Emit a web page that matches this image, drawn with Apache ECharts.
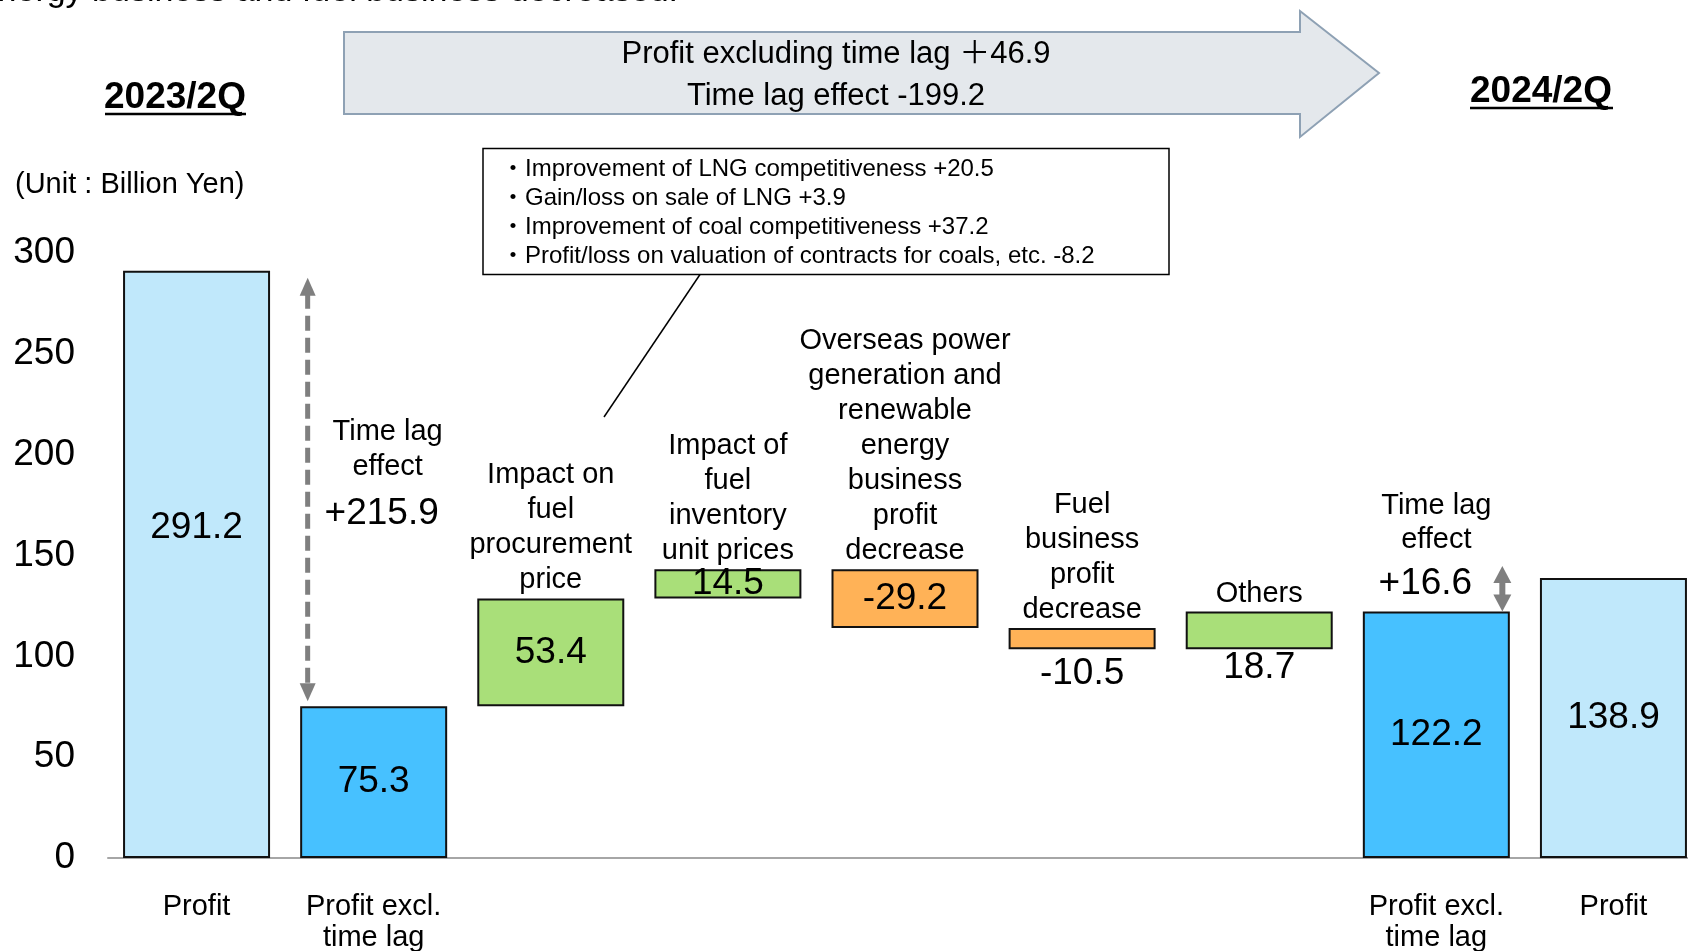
<!DOCTYPE html>
<html>
<head>
<meta charset="utf-8">
<title>Profit 2023/2Q - 2024/2Q</title>
<script src="https://cdn.jsdelivr.net/npm/echarts@6/dist/echarts.min.js"></script>
<style>
    html, body { margin: 0; padding: 0; background: #fff; }
    #main { width: 1688px; height: 951px; }
</style>
</head>
<body>
<div id="main"></div>
<script>
// ---- data ----
var categories = [
    'Profit',
    'Profit excl.\ntime lag',
    'Impact on\nfuel\nprocurement\nprice',
    'Impact of\nfuel\ninventory\nunit prices',
    'Overseas power\ngeneration and\nrenewable\nenergy\nbusiness\nprofit\ndecrease',
    'Fuel\nbusiness\nprofit\ndecrease',
    'Others',
    'Profit excl.\ntime lag',
    'Profit'
];
var axisNames = ['Profit', 'Profit excl.\ntime lag', '', '', '', '', '', 'Profit excl.\ntime lag', 'Profit'];
var changes = [291.2, 75.3, 53.4, 14.5, -29.2, -10.5, 18.7, 122.2, 138.9];
var kinds = ['profit', 'excl', 'up', 'up', 'down', 'down', 'up', 'excl', 'profit'];
var timeLag = [215.9, 16.6];
var periods = ['2023/2Q', '2024/2Q'];
var bannerLines = ['Profit excluding time lag \uff0b46.9', 'Time lag effect -199.2'];
var fuelNotes = [
    'Improvement of LNG competitiveness +20.5',
    'Gain/loss on sale of LNG +3.9',
    'Improvement of coal competitiveness +37.2',
    'Profit/loss on valuation of contracts for coals, etc. -8.2'
];
var unitText = '(Unit : Billion Yen)';
var topNote = 'energy business and fuel business decreased.';

// ---- styles ----
var FONT = "'Liberation Sans', Arial, 'Noto Sans CJK JP', sans-serif";
var colorOf = { profit: '#C0E8FB', excl: '#47C1FF', up: '#A9DF79', down: '#FFB257' };
var labelTweak = {
    0: { offset: [0, -37] },
    5: { position: 'bottom', distance: 6 },
    6: { position: 'bottom', distance: 0 }
};

// waterfall: transparent base + visible step
var base = [], height = [], tops = [];
var run = 0;
for (var i = 0; i < changes.length; i++) {
    var v = changes[i];
    if (kinds[i] == 'profit' || kinds[i] == 'excl') {
        base.push(0); height.push(v); run = v;
    } else if (v >= 0) {
        base.push(run); height.push(v); run = run + v;
    } else {
        run = run + v; base.push(run); height.push(-v);
    }
    tops.push(base[i] + height[i]);
}

var barData = height.map(function (h, i) {
    var item = { value: h, itemStyle: { color: colorOf[kinds[i]] } };
    if (labelTweak[i]) item.label = labelTweak[i];
    return item;
});

// names written above the step bars
var nameData = [];
for (var k = 0; k < categories.length; k++) {
    if (kinds[k] == 'up' || kinds[k] == 'down') {
        nameData.push({ name: categories[k], value: [k, tops[k]] });
    }
}

var chart = echarts.init(document.getElementById('main'));

var option = {
    animation: false,
    textStyle: { fontFamily: FONT },
    grid: { left: 108, right: -14, top: 253, bottom: 93, outerBoundsMode: 'none', containLabel: false },
    xAxis: {
        type: 'category',
        data: axisNames,
        axisLine: { lineStyle: { color: '#A6A6A6', width: 2 } },
        axisTick: { show: false },
        axisLabel: {
            interval: 0, color: '#000', fontSize: 29, lineHeight: 31,
            margin: 33, fontFamily: FONT
        }
    },
    yAxis: {
        type: 'value',
        min: 0, max: 300, interval: 50,
        axisLine: { show: false },
        axisTick: { show: false },
        splitLine: { show: false },
        axisLabel: { color: '#000', fontSize: 37, margin: 33, fontFamily: FONT, padding: [4, 0, 0, 0] }
    },
    series: [
        {
            name: 'base', type: 'bar', stack: 'w', data: base, barWidth: 147,
            itemStyle: { color: 'rgba(0,0,0,0)' }, silent: true
        },
        {
            name: 'change', type: 'bar', stack: 'w', data: barData, barWidth: 147,
            itemStyle: { borderColor: '#111', borderWidth: 2 },
            label: {
                show: true, position: 'inside', color: '#000', fontSize: 37, fontFamily: FONT,
                formatter: function (p) { return changes[p.dataIndex].toFixed(1); }
            }
        },
        {
            name: 'items', type: 'scatter', data: nameData, symbolSize: 1,
            itemStyle: { color: 'rgba(0,0,0,0)', opacity: 1 },
            label: {
                show: true, position: 'top', distance: 0, formatter: '{b}',
                color: '#000', fontSize: 29, lineHeight: 35, align: 'center', fontFamily: FONT
            }
        }
    ]
};

chart.setOption(option);

// ---- annotations placed with the chart's own scales ----
function px(idx, val) {
    return chart.convertToPixel({ gridIndex: 0 }, [idx, val]);
}

function txt(x, y, s, size, opts) {
    var st = { text: s, fontSize: size, fontFamily: FONT, fill: '#000', align: 'center', verticalAlign: 'middle' };
    for (var key in opts) st[key] = opts[key];
    return { type: 'text', x: x, y: y, style: st, z: 10 };
}

var g = [];

// cut-off line at the very top
g.push(txt(678, 9, topNote, 34, { align: 'right', verticalAlign: 'bottom' }));

// big banner arrow
g.push({
    type: 'polygon', z: 5,
    shape: { points: [[344, 32], [1300, 32], [1300, 11], [1379, 73], [1300, 137], [1300, 114], [344, 114]] },
    style: { fill: '#E4E8EC', stroke: '#8EA1B4', lineWidth: 2 }
});
g.push(txt(836, 54, bannerLines[0], 31, {}));
g.push(txt(836, 96, bannerLines[1], 31, {}));

// period titles (underlined)
g.push(txt(175, 98, periods[0], 37, { fontWeight: 'bold' }));
g.push({ type: 'line', z: 10, shape: { x1: 105, y1: 114, x2: 246, y2: 114 }, style: { stroke: '#000', lineWidth: 2.5 } });
g.push(txt(1541, 92, periods[1], 37, { fontWeight: 'bold' }));
g.push({ type: 'line', z: 10, shape: { x1: 1470, y1: 108, x2: 1613, y2: 108 }, style: { stroke: '#000', lineWidth: 2.5 } });

g.push(txt(15, 185, unitText, 29, { align: 'left' }));

// fuel procurement breakdown box
g.push({
    type: 'rect', z: 5,
    shape: { x: 483, y: 148.5, width: 686, height: 126 },
    style: { fill: '#fff', stroke: '#000', lineWidth: 1.5 }
});
g.push(txt(501, 155, fuelNotes.map(function (s) { return '\u30fb' + s; }).join('\n'), 24,
    { align: 'left', verticalAlign: 'top', lineHeight: 29 }));
g.push({ type: 'line', z: 5, shape: { x1: 700, y1: 274.5, x2: 604, y2: 417 }, style: { stroke: '#000', lineWidth: 1.5 } });

// time lag effect 2023/2Q: dashed double arrow
var gray = '#7F7F7F';
var ax = px(1, 0)[0] - 66;
var aTop = px(1, changes[0])[1] + 7;
var aBot = px(1, changes[1])[1] - 5;
g.push({ type: 'line', z: 6, shape: { x1: ax, y1: aTop + 16, x2: ax, y2: aBot - 16 }, style: { stroke: gray, lineWidth: 5, lineDash: [15, 7] } });
g.push({ type: 'polygon', z: 6, shape: { points: [[ax, aTop], [ax - 8, aTop + 18], [ax + 8, aTop + 18]] }, style: { fill: gray } });
g.push({ type: 'polygon', z: 6, shape: { points: [[ax, aBot], [ax - 8, aBot - 18], [ax + 8, aBot - 18]] }, style: { fill: gray } });

var mid = px(1, (changes[0] + changes[1]) / 2);
g.push(txt(mid[0] + 14, mid[1] - 56, 'Time lag', 29, {}));
g.push(txt(mid[0] + 14, mid[1] - 21, 'effect', 29, {}));
g.push(txt(mid[0] + 8, mid[1] + 25, '+' + timeLag[0].toFixed(1), 37, {}));

// time lag effect 2024/2Q: small solid double arrow
var bx = px(7, 0)[0] + 66;
var bBot = px(7, changes[7])[1];
var bTop = px(7, changes[7] + timeLag[1])[1] - 12;
g.push({ type: 'line', z: 6, shape: { x1: bx, y1: bTop + 14, x2: bx, y2: bBot - 14 }, style: { stroke: gray, lineWidth: 6 } });
g.push({ type: 'polygon', z: 6, shape: { points: [[bx, bTop], [bx - 9, bTop + 17], [bx + 9, bTop + 17]] }, style: { fill: gray } });
g.push({ type: 'polygon', z: 6, shape: { points: [[bx, bBot], [bx - 9, bBot - 17], [bx + 9, bBot - 17]] }, style: { fill: gray } });

var top8 = px(7, changes[7]);
g.push(txt(top8[0], top8[1] - 106, 'Time lag', 29, {}));
g.push(txt(top8[0], top8[1] - 72, 'effect', 29, {}));
g.push(txt(top8[0] - 11, top8[1] - 28, '+' + timeLag[1].toFixed(1), 37, {}));

chart.setOption({ graphic: { elements: g } });
</script>
</body>
</html>
